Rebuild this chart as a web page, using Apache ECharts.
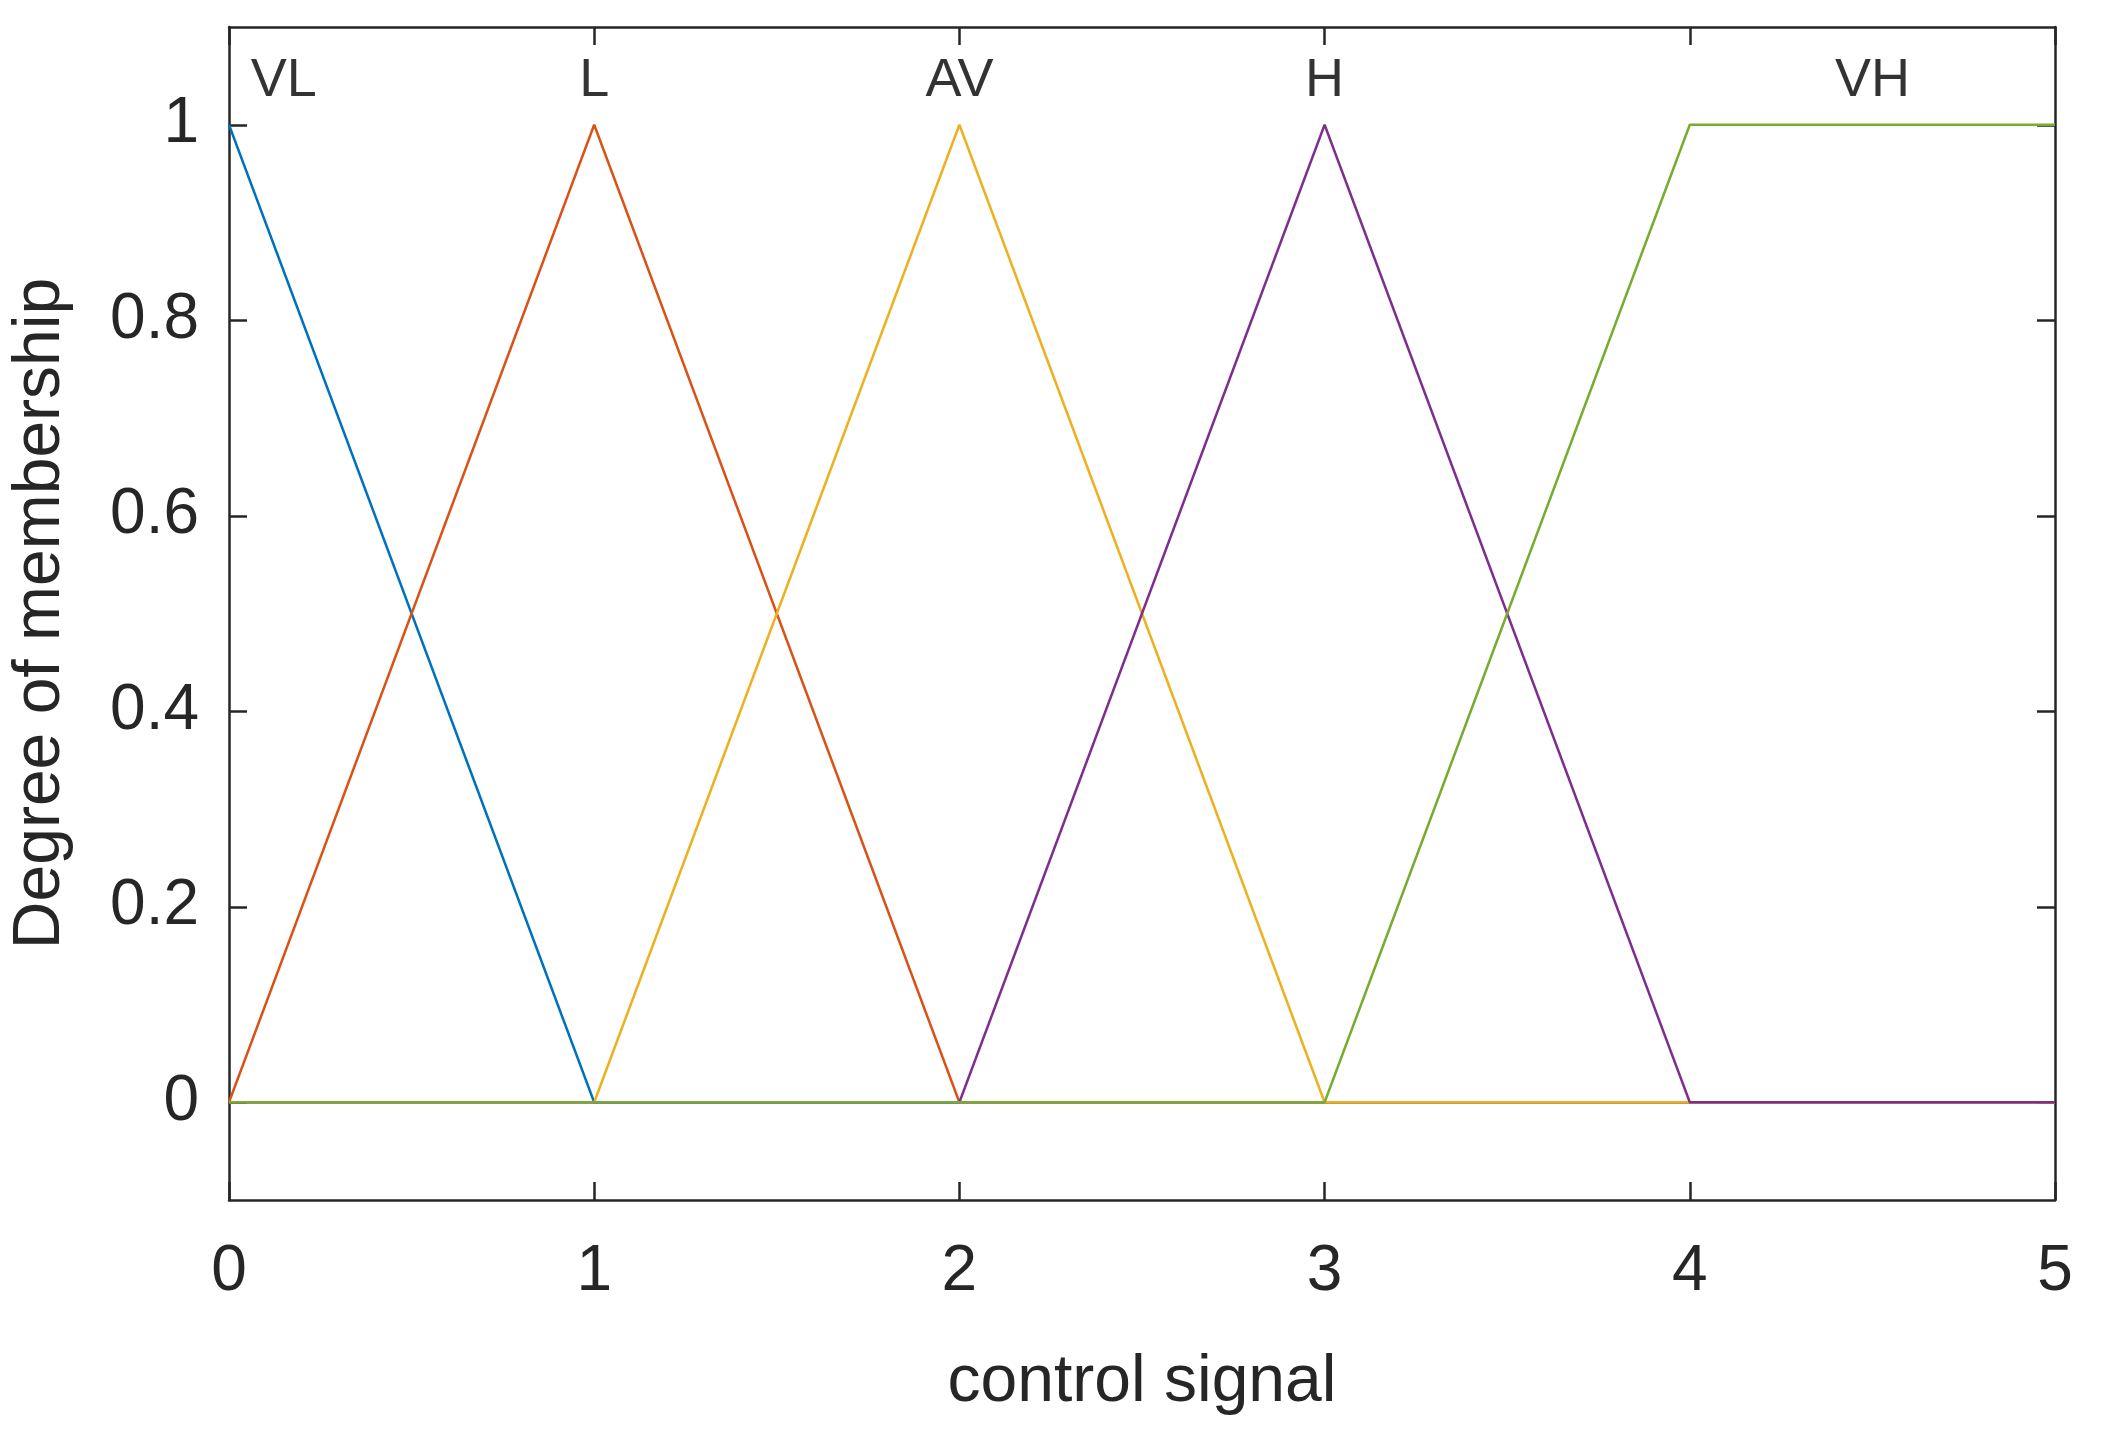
<!DOCTYPE html>
<html><head><meta charset="utf-8">
<script src="https://cdn.jsdelivr.net/npm/echarts@6/dist/echarts.min.js"></script>
<style>html,body{margin:0;background:#fff}#c{width:2102px;height:1432px}</style>
</head><body><div id="c"></div>
<script>
var names = ['VL', 'L', 'AV', 'H', 'VH'];
var colors = ['#0072BD', '#D95319', '#EDB120', '#7E2F8E', '#77AC30'];
var vl = [[0, 1], [1, 0], [5, 0]];
var l = [[0, 0], [1, 1], [2, 0], [5, 0]];
var av = [[0, 0], [1, 0], [2, 1], [3, 0], [5, 0]];
var h = [[0, 0], [2, 0], [3, 1], [4, 0], [5, 0]];
var vh = [[0, 0], [3, 0], [4, 1], [5, 1]];
var labelPos = [[0.15, 1.045], [1, 1.045], [2, 1.045], [3, 1.045], [4.5, 1.045]];
var yTicks = [0, 0.2, 0.4, 0.6, 0.8, 1];

var chart = echarts.init(document.getElementById('c'));
var font = 'Arial, Liberation Sans, sans-serif';
var axLine = { show: true, onZero: false, lineStyle: { color: '#262626', width: 2.5 } };
var tick = { show: true, inside: true, length: 18, lineStyle: { color: '#262626', width: 2.5 } };

var series = [vl, l, av, h, vh].map(function (d, i) {
    return {
        type: 'line', data: d, symbol: 'none', xAxisIndex: 0, yAxisIndex: 0,
        lineStyle: { color: colors[i], width: 2.5 }, itemStyle: { color: colors[i] }
    };
});
series.push({
    type: 'scatter', symbolSize: 0, silent: true,
    data: labelPos.map(function (p, i) { return { value: p, name: names[i] }; }),
    label: { show: true, position: 'inside', formatter: '{b}', color: '#000', fontSize: 54, fontFamily: font }
});
// invisible series so the top and right axes are drawn
series.push({ type: 'line', data: [], xAxisIndex: 1, yAxisIndex: 1, symbol: 'none' });

chart.setOption({
    animation: false,
    grid: { left: 220, right: 47, top: 27, bottom: 232 },
    xAxis: [{
        type: 'value', min: 0, max: 5, interval: 1, position: 'bottom',
        name: 'control signal', nameLocation: 'middle', nameGap: 150,
        nameTextStyle: { fontSize: 66, color: '#262626', fontFamily: font },
        axisLine: axLine, axisTick: tick, splitLine: { show: false },
        axisLabel: { fontSize: 64, color: '#262626', fontFamily: font, margin: 40 }
    }, {
        type: 'value', min: 0, max: 5, interval: 1, position: 'top',
        axisLine: axLine, axisTick: tick, splitLine: { show: false }, axisLabel: { show: false }
    }],
    yAxis: [{
        type: 'value', min: -0.1, max: 1.1, position: 'left',
        name: 'Degree of membership', nameLocation: 'middle', nameGap: 155,
        nameTextStyle: { fontSize: 66, color: '#262626', fontFamily: font },
        axisLine: axLine, splitLine: { show: false },
        axisTick: Object.assign({ customValues: yTicks }, tick),
        axisLabel: { customValues: yTicks, fontSize: 64, color: '#262626', fontFamily: font, margin: 30 }
    }, {
        type: 'value', min: -0.1, max: 1.1, position: 'right',
        axisLine: axLine, splitLine: { show: false },
        axisTick: Object.assign({ customValues: yTicks }, tick),
        axisLabel: { show: false, customValues: yTicks }
    }],
    series: series
});
</script>
</body></html>
